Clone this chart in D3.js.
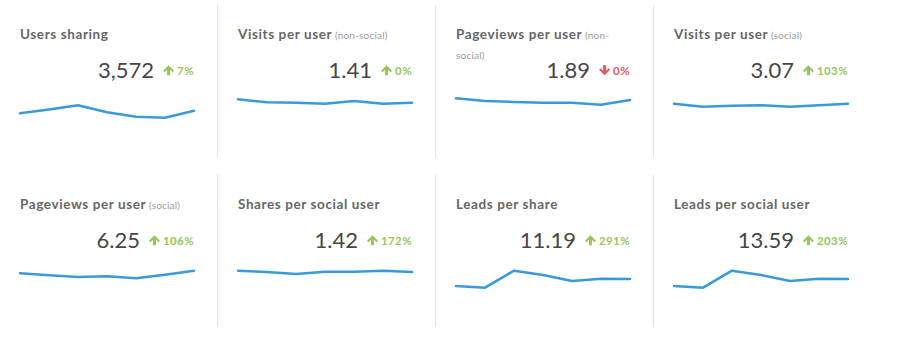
<!DOCTYPE html>
<html>
<head>
<meta charset="utf-8">
<script src="https://cdn.jsdelivr.net/npm/d3@7"></script>
<style>
  html, body { margin: 0; padding: 0; background: #fff; }
  svg { display: block; font-family: Lato, "Open Sans", sans-serif; }
  .title { font-size: 13.5px; font-weight: 700; fill: #666; letter-spacing: 0.6px; }
  .sub { font-size: 10px; font-weight: 400; fill: #9a9a9a; letter-spacing: 0.2px; }
  .value { font-size: 22px; font-weight: 400; fill: #464646; }
  .pct { font-size: 11.5px; font-weight: 700; letter-spacing: 0.4px; }
</style>
</head>
<body>
<svg id="chart" width="900" height="338"></svg>
<script>
// KPI tiles: title, headline value, change vs. previous period, weekly trend
const titles = ["Users sharing", "Visits per user", "Pageviews per user", "Visits per user",
                "Pageviews per user", "Shares per social user", "Leads per share", "Leads per social user"];
const subtitles = ["", "(non-social)", "(non-social)", "(social)", "(social)", "", "", ""];
const values = [3572, 1.41, 1.89, 3.07, 6.25, 1.42, 11.19, 13.59];
const changes = [7, 0.2, -0.3, 103, 106, 172, 291, 203];

// weekly trend per tile (last week = headline value)
const trend0 = [3336, 3690, 4064, 3427, 3027, 2936, 3572];
const trend1 = [1.512, 1.423, 1.410, 1.380, 1.461, 1.380, 1.41];
const trend2 = [1.955, 1.853, 1.815, 1.789, 1.789, 1.713, 1.89];
const trend3 = [3.073, 2.874, 2.940, 2.966, 2.874, 2.966, 3.07];
const trend4 = [5.92, 5.66, 5.45, 5.54, 5.28, 5.74, 6.25];
const trend5 = [1.461, 1.423, 1.363, 1.431, 1.431, 1.461, 1.42];
const trend6 = [9.27, 8.81, 13.45, 12.27, 10.64, 11.26, 11.19];
const trend7 = [11.27, 10.71, 16.34, 14.92, 12.93, 13.69, 13.59];
const trends = [trend0, trend1, trend2, trend3, trend4, trend5, trend6, trend7];

// upper bound of each sparkline's value axis
const trendMax = [5000, 1.64, 2.08, 3.65, 6.97, 1.63, 15, 18.23];

const W = 218, H = 170, COLS = 4;
const padL = 20, innerW = 174;
const blue = "#3a9ad9", green = "#96c659", red = "#e5585b";

const svg = d3.select("#chart");
const fmtInt = d3.format(",");
const fmtDec = d3.format(".2f");

// scratch element for measuring text widths
const meas = svg.append("text").attr("visibility", "hidden");
function textWidth(str, cls) {
  meas.attr("class", cls).text(str);
  return meas.node().getComputedTextLength();
}

// break a title + subtitle into lines no wider than innerW
function wrapTitle(title, sub) {
  const tokens = [];
  title.split(" ").forEach(w => tokens.push({ t: w, cls: "title" }));
  if (sub) {
    sub.split(" ").forEach(w => {
      const parts = w.split(/(?<=-)/);
      parts.forEach((p, k) => tokens.push({ t: p, cls: "sub", glue: k > 0 }));
    });
  }
  const lines = [[]];
  let width = 0;
  const spaceW = textWidth("\u00a0", "title");
  tokens.forEach(tok => {
    const w = textWidth(tok.t, tok.cls);
    const line = lines[lines.length - 1];
    const add = line.length && !tok.glue ? spaceW + w : w;
    if (line.length && width + add > innerW) {
      lines.push([{ ...tok, glue: true }]);
      width = w;
    } else {
      line.push(tok);
      width += add;
    }
  });
  return lines;
}

function arrowPath(up) {
  const p = [[0,-10],[5.5,-4.5],[4,-3],[1.5,-5.5],[1.5,0],[-1.5,0],[-1.5,-5.5],[-4,-3],[-5.5,-4.5]];
  return "M" + p.map(([x, y]) => [x, up ? y : -10 - y].join(",")).join("L") + "Z";
}

const x = d3.scaleLinear().domain([0, 6]).range([padL, padL + innerW]);

titles.forEach((title, i) => {
  const col = i % COLS, row = Math.floor(i / COLS);
  const g = svg.append("g").attr("transform", `translate(${col * W},${row * H})`);

  if (col < COLS - 1) {
    g.append("line")
      .attr("x1", 217.5).attr("x2", 217.5)
      .attr("y1", 5).attr("y2", 157)
      .attr("stroke", "#e3e3e3").attr("stroke-width", 1);
  }

  // title
  const lines = wrapTitle(title, subtitles[i]);
  lines.forEach((line, li) => {
    const t = g.append("text").attr("x", padL).attr("y", 38.5 + li * 20);
    line.forEach((tok, k) => {
      const lead = k > 0 && !tok.glue ? "\u00a0" : "";
      t.append("tspan").attr("class", tok.cls).text(lead + tok.t);
    });
  });

  // change indicator
  const ch = changes[i];
  const up = ch >= 0;
  const color = up ? green : red;
  const pctStr = Math.abs(Math.round(ch)) + "%";
  const right = padL + innerW;
  g.append("text").attr("class", "pct")
    .attr("x", right).attr("y", 74.5)
    .attr("text-anchor", "end").attr("fill", color)
    .text(pctStr);
  const pw = textWidth(pctStr, "pct");
  const ax = right - pw - 3 - 5.5;
  g.append("path")
    .attr("d", arrowPath(up))
    .attr("transform", `translate(${ax},75.2)`)
    .attr("fill", color);

  // headline value
  const v = values[i];
  g.append("text").attr("class", "value")
    .attr("x", ax - 5.5 - 9).attr("y", 78)
    .attr("text-anchor", "end")
    .text(Number.isInteger(v) ? fmtInt(v) : fmtDec(v));

  // sparkline
  const y = d3.scaleLinear().domain([0, trendMax[i]]).range([150, 95]);
  const line = d3.line().x((d, k) => x(k)).y(d => y(d));
  g.append("path")
    .datum(trends[i])
    .attr("d", line)
    .attr("fill", "none")
    .attr("stroke", blue)
    .attr("stroke-width", 2.5)
    .attr("stroke-linejoin", "round")
    .attr("stroke-linecap", "round");
});

meas.remove();
</script>
</body>
</html>
